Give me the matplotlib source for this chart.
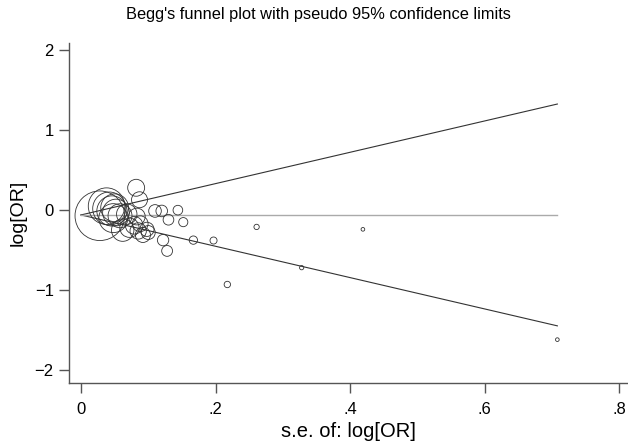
import numpy as np
import matplotlib
matplotlib.use("Agg")
import matplotlib.pyplot as plt

plt.rcParams['font.family'] = ['Liberation Sans', 'DejaVu Sans']

# Study standard errors and log odds ratios
se = [0.028, 0.038, 0.042, 0.046, 0.050, 0.052, 0.048, 0.058, 0.062, 0.072,
      0.079, 0.085, 0.083, 0.088, 0.092, 0.098, 0.082, 0.087, 0.110, 0.120,
      0.144, 0.130, 0.152, 0.122, 0.128, 0.167, 0.197, 0.261, 0.2175, 0.328,
      0.419, 0.708, 0.068, 0.100]
log_or = [-0.07, 0.05, 0.02, -0.01, 0.03, -0.03, -0.10, -0.07, -0.25, -0.22,
          -0.19, -0.26, -0.08, -0.17, -0.31, -0.24, 0.28, 0.13, -0.01, -0.01,
          0.00, -0.12, -0.15, -0.375, -0.51, -0.375, -0.38, -0.21, -0.93, -0.72,
          -0.24, -1.62, -0.05, -0.28]
pooled = -0.06

xticks = [0, 0.2, 0.4, 0.6, 0.8]
xticklabels = ['0', '.2', '.4', '.6', '.8']
yticks = [-2, -1, 0, 1, 2]

se_arr = np.array(se)
lor_arr = np.array(log_or)

fig = plt.figure(figsize=(6.28, 4.42), dpi=100)
ax = fig.add_axes([0.1099, 0.1335, 0.8901, 0.769])

# funnel limits
se_line = np.concatenate([[0.0], np.sort(se_arr)])
ax.plot(se_line, pooled + 1.96 * se_line, color='#333333', lw=0.8)
ax.plot(se_line, pooled - 1.96 * se_line, color='#333333', lw=0.8)
ax.plot([0, se_arr.max()], [pooled, pooled], color='#aaaaaa', lw=1.0)

sizes = np.maximum(1.0 / se_arr ** 2, 7)
ax.scatter(se_arr, lor_arr, s=sizes, facecolors='none', edgecolors='#333333',
           linewidths=0.6, zorder=3)

ax.set_xlim(-0.0178, 0.813)
ax.set_ylim(-2.1625, 2.09)
ax.set_xticks(xticks)
ax.set_xticklabels(xticklabels)
ax.set_yticks(yticks)

for side in ['top', 'right']:
    ax.spines[side].set_visible(False)
for side in ['left', 'bottom']:
    ax.spines[side].set_color('#555555')
    ax.spines[side].set_linewidth(1.0)
ax.tick_params(direction='out', length=7, width=1.0, color='#555555',
               labelsize=12, pad=4)
ax.tick_params(axis='x', pad=7)

ax.set_xlabel('s.e. of: log[OR]', fontsize=14.5, labelpad=3)
ax.set_ylabel('log[OR]', fontsize=14, labelpad=6)
fig.suptitle("Begg's funnel plot with pseudo 95% confidence limits",
             fontsize=11.8, x=0.507, y=0.985)

fig.savefig('out.png', dpi=100)
